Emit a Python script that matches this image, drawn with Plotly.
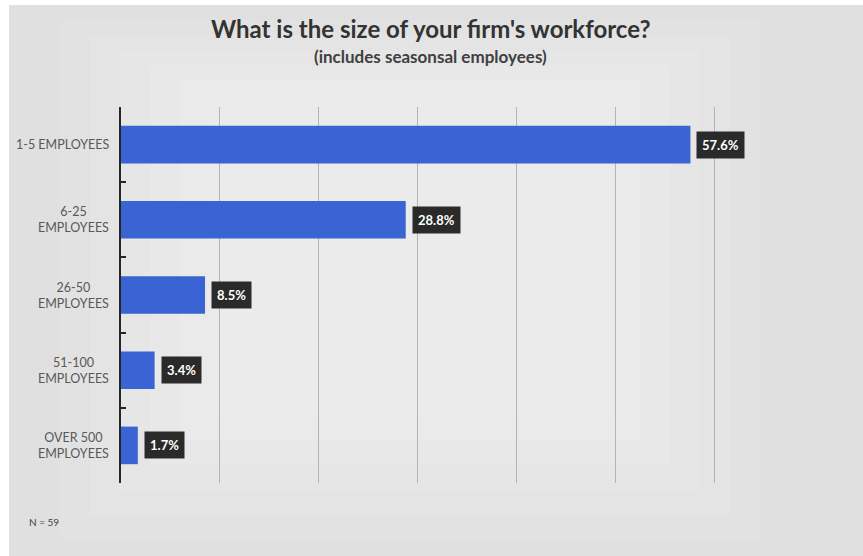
import plotly.graph_objects as go

# Survey results: size of firm workforce
categories = ["1-5 EMPLOYEES", "6-25<br>EMPLOYEES", "26-50<br>EMPLOYEES",
              "51-100<br>EMPLOYEES", "OVER 500<br>EMPLOYEES"]
shares = [57.6, 28.8, 8.5, 3.4, 1.7]
x_ticks = [0, 10, 20, 30, 40, 50, 60, 70]

W, H = 863, 556
L, R, T, B = 121, 50, 107, 73
PW, PH = W - L - R, H - T - B


def px_x(p):
    return (p - L) / PW


def px_y(p):
    return (H - B - p) / PH


FONT = "Lato, Open Sans, sans-serif"

fig = go.Figure()
fig.add_trace(go.Bar(
    y=categories, x=shares, orientation="h",
    marker=dict(color="#3A64D4", line=dict(width=0)),
    hoverinfo="skip",
))

# value labels in dark boxes next to each bar
for cat, v in zip(categories, shares):
    fig.add_annotation(
        x=v, y=cat, xref="x", yref="y", text=f"<b>{v:.1f}%</b>",
        showarrow=False, xanchor="left", xshift=6,
        font=dict(family=FONT, size=13, color="white"),
        bgcolor="#2A2A2A", borderpad=5,
    )

# category labels, right-aligned block with centred lines
for cat in categories:
    fig.add_annotation(
        x=px_x(111), y=cat, xref="paper", yref="y", text=cat,
        showarrow=False, xanchor="right", align="center",
        font=dict(family=FONT, size=12.5, color="#595959"),
    )

# card background with a soft lighter centre
fig.add_shape(type="rect", xref="paper", yref="paper",
              x0=px_x(9), x1=px_x(W), y0=px_y(H), y1=px_y(5),
              fillcolor="#E0E0E0", line=dict(width=0), layer="below")
for i in range(6):
    fig.add_shape(type="rect", xref="paper", yref="paper",
                  x0=px_x(60 + i * 30), x1=px_x(760 - i * 30),
                  y0=px_y(540 - i * 25), y1=px_y(20 + i * 15),
                  fillcolor="rgba(250,250,250,0.09)", line=dict(width=0),
                  layer="below")

# title and subtitle
fig.add_annotation(
    x=px_x(430), y=px_y(28), xref="paper", yref="paper",
    xanchor="center", yanchor="middle",
    text="<b>What is the size of your firm's workforce?</b>", showarrow=False,
    font=dict(family=FONT, size=24, color="#333333"))
fig.add_annotation(
    x=px_x(430), y=px_y(57), xref="paper", yref="paper",
    xanchor="center", yanchor="middle",
    text="<b>(includes seasonsal employees)</b>", showarrow=False,
    font=dict(family=FONT, size=17, color="#404040"))

fig.add_annotation(
    x=px_x(27), y=px_y(522), xref="paper", yref="paper", text="N = 59",
    showarrow=False, xanchor="left", yanchor="middle",
    font=dict(family=FONT, size=10, color="#404040"))

fig.update_layout(
    width=W, height=H,
    margin=dict(l=L, r=R, t=T, b=B),
    paper_bgcolor="white", plot_bgcolor="rgba(0,0,0,0)",
    bargap=0.5, showlegend=False,
    xaxis=dict(range=[0, 70], tickvals=x_ticks, showticklabels=False,
               showgrid=True, gridcolor="#B4B4B4", gridwidth=1,
               zeroline=False, showline=False, fixedrange=True),
    yaxis=dict(autorange="reversed", showticklabels=False,
               showline=True, linecolor="#262626", linewidth=2,
               ticks="inside", ticklen=5, tickcolor="#262626", tickwidth=2,
               tickson="boundaries", showgrid=False, fixedrange=True),
)

fig.write_html("out.html")
